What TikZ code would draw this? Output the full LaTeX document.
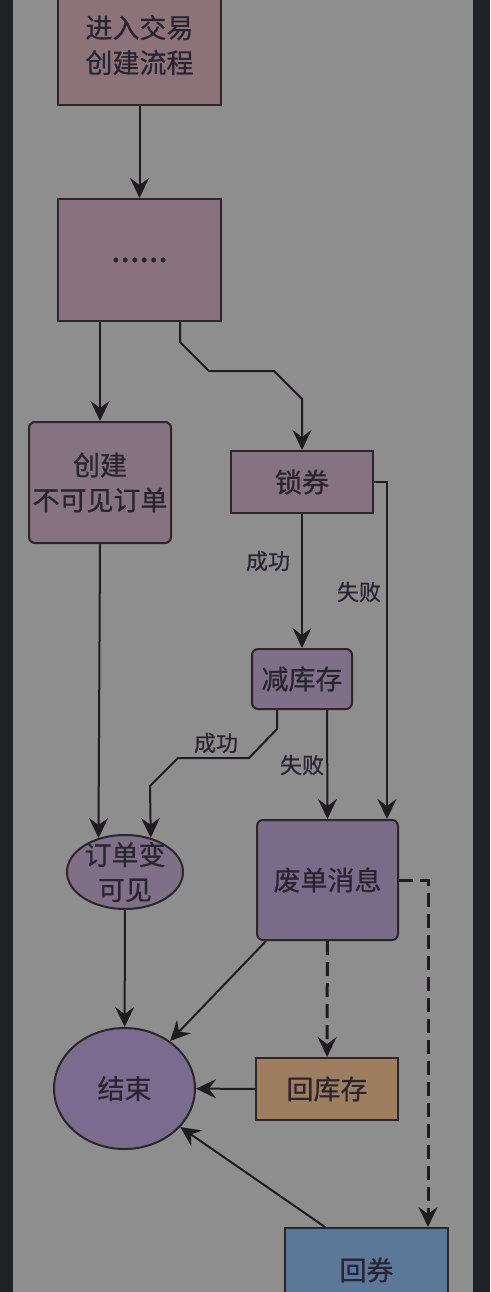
\documentclass[tikz,border=0pt]{standalone}
\usepackage{fontspec}
\setmainfont{Noto Sans CJK SC}[FakeBold=0.6]
\usetikzlibrary{arrows.meta,shapes.geometric}

\definecolor{frameC}{HTML}{202124}
\definecolor{panelC}{HTML}{8E8E8E}
\definecolor{lineC}{HTML}{1E1C1E}
\definecolor{edgeC}{HTML}{2D2528}
\definecolor{textC}{HTML}{2A2430}
\definecolor{fillA}{HTML}{8B7379}
\definecolor{fillB}{HTML}{88727D}
\definecolor{fillC}{HTML}{85737F}
\definecolor{fillD}{HTML}{7F6F87}
\definecolor{fillE}{HTML}{796C89}
\definecolor{fillF}{HTML}{7B6B8F}
\definecolor{fillTan}{HTML}{9D7E5E}
\definecolor{fillBlue}{HTML}{5B7899}

\tikzset{
  base/.style={draw=edgeC, line width=2pt, text=textC, inner sep=0pt,
    font=\fontsize{27pt}{35pt}\selectfont, align=center},
  sqbox/.style={base, rectangle},
  rbox/.style={base, rectangle, rounded corners=6pt},
  oval/.style={base, ellipse},
  lbl/.style={text=textC, inner sep=0pt, font=\fontsize{22pt}{26pt}\selectfont},
  arr/.style={draw=lineC, line width=2pt,
    -{Stealth[length=20pt,width=19pt,inset=7pt]}},
  darr/.style={arr, line width=3pt, dash pattern=on 14pt off 7pt},
}

\begin{document}
\begin{tikzpicture}[x=1pt,y=-1pt]
\useasboundingbox (0,0) rectangle (490,1292);
\fill[frameC] (0,0) rectangle (490,1292);
\fill[panelC] (13,0) rectangle (473,1292);

% nodes
\node[sqbox, fill=fillA, minimum width=163pt, minimum height=120pt] (start) at (139.5,45) {进入交易\\创建流程};
\node[sqbox, fill=fillB, minimum width=163pt, minimum height=122pt, font=\fontsize{34pt}{34pt}\selectfont] (dots) at (139.5,260) {......};
\node[rbox, fill=fillC, minimum width=142pt, minimum height=121pt] (invis) at (100,482.5) {创建\\不可见订单};
\node[sqbox, fill=fillC, minimum width=142pt, minimum height=62pt] (lock) at (302,482) {锁券};
\node[rbox, fill=fillD, minimum width=100pt, minimum height=60pt] (stock) at (302,679) {减库存};
\node[oval, fill=fillD, minimum width=116pt, minimum height=74pt, inner ysep=-8pt] (vis) at (125,872) {订单变\\可见};
\node[rbox, fill=fillE, minimum width=141pt, minimum height=120pt] (cancel) at (327.5,880) {废单消息};
\node[oval, fill=fillF, minimum width=141pt, minimum height=121pt] (finish) at (124.5,1088.5) {结束};
\node[sqbox, fill=fillTan, minimum width=142pt, minimum height=62pt] (restock) at (327,1089) {回库存};
\node[sqbox, fill=fillBlue, minimum width=163pt, minimum height=84pt] (recoupon) at (366.5,1270) {回券};

% edge labels
\node[lbl] (lockok) at (268,561) {成功};
\node[lbl] (lockfail) at (359,592) {失败};
\node[lbl] (stockok) at (216,743) {成功};
\node[lbl] (stockfail) at (302,765) {失败};

% connectors
\draw[arr] (start) -- (dots);
\draw[arr] (invis.north |- dots.south) -- (invis.north);
\draw[arr] ([xshift=40.5pt]dots.south) -- ++(0,20) -- ++(29,29) -- ++(65,0) -- ++(28,28) -- (lock.north);
\draw[arr] (lock) -- (stock);
\draw[arr] (lock.east) -| ([xshift=59.5pt]cancel.north);
\draw[arr] ([xshift=-25pt]stock.south) -- ++(0,19) -- ++(-28,29) -- ++(-71,0) -- ++(-28,28) -- (vis.53);
\draw[arr] ([xshift=25pt]stock.south) -- (cancel.north);
\draw[arr] (invis.south) -- (vis.128);
\draw[arr] (vis) -- (finish);
\draw[arr] ([xshift=10pt]cancel.south west) -- (finish);
\draw[darr] (cancel) -- (restock);
\draw[darr] (cancel.east) -| ([xshift=61.5pt]recoupon.north);
\draw[arr] (restock) -- (finish);
\draw[arr] ([xshift=-41.5pt]recoupon.north) -- (finish);
\end{tikzpicture}
\end{document}
